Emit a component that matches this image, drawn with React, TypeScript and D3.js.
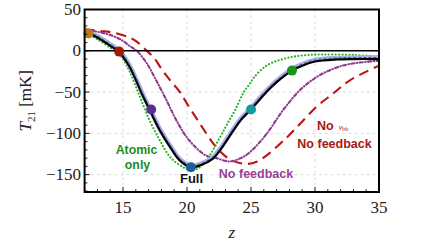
import React from 'react';
import * as d3 from 'd3';

// curve samples (z, T21 in mK)
const fullZ = [12, 12.3, 13, 14, 14.7, 15, 15.5, 16, 16.5, 17.1, 17.9, 18.7, 19.45, 20.3, 21, 22, 22.6, 23.6, 24.2, 25, 26.2, 27, 28.2, 29, 30, 31.7, 33, 35];
const fullT = [23, 21, 16, 6, -1, -7, -19, -35, -53, -72, -97, -117, -133, -141, -139, -131, -120, -97, -84, -71, -50, -38, -24, -18, -13, -10.5, -10, -10];

const atomicZ = [12, 13, 14, 14.5, 15, 15.55, 16.3, 17.1, 17.9, 18.7, 19.7, 20.4, 21, 21.6, 22.6, 23.2, 23.75, 24.4, 24.9, 25.2, 26.2, 27.5, 28.8, 30.5, 33, 35];
const atomicT = [22, 14, 4, -1, -10, -26, -55, -85, -109, -129, -141, -145, -141, -131, -104, -87, -72, -51, -40, -33, -18, -10, -6, -4.5, -5, -7];

const noFbZ = [12, 12.7, 14.2, 15, 15.5, 16.07, 16.85, 17.6, 18.4, 19.2, 20.2, 21.5, 22.3, 23.3, 24.2, 24.9, 26.2, 27.5, 28.8, 30.1, 31.4, 32.7, 35];
const noFbT = [25, 24, 18, 12, 6, 0, -15, -36, -60, -85, -109, -127, -130, -134, -130, -123, -101, -72, -48, -32, -22, -16, -12];

const noVbbZ = [12, 13.2, 14.24, 15.5, 16.07, 16.85, 17.4, 18.1, 18.7, 19.45, 20, 21, 22.3, 23.4, 24.7, 25.5, 26.2, 27.8, 28.8, 30.1, 31.4, 32.7, 35];
const noVbbT = [26, 24, 22, 16, 11, 0, -8, -24, -36, -50, -64, -88, -117, -132, -137, -134, -127, -105, -89, -68, -52, -36, -18];

const dotZ = [12.3, 14.7, 17.2, 20.3, 25, 28.2];
const dotT = [21, -1, -71, -141, -71, -24];
const dotColors = ['#b8791d', '#a3180e', '#5a2d92', '#1f5d9c', '#16999c', '#1b9421'];

const xTicks = [15, 20, 25, 30, 35];
const yTicks = [50, 0, -50, -100, -150];

const W = 432;
const H = 243;
const serif = '"Liberation Serif", "DejaVu Serif", serif';
const sans = '"Liberation Sans", Arial, sans-serif';

export default function App() {
  const x = d3.scaleLinear().domain([12, 35]).range([84.6, 379]);
  const y = d3.scaleLinear().domain([-171, 50]).range([192, 9.5]);
  const [x0, x1] = x.range();
  const [y0, y1] = y.range();

  const line = (zs: number[], ts: number[]) =>
    d3.line<number>()
      .x((_, i) => x(zs[i]))
      .y((_, i) => y(ts[i]))
      .curve(d3.curveCatmullRom.alpha(0.5))(zs) || '';

  const fullPath = line(fullZ, fullT);
  const minorX = d3.range(12, 35.01, 1);
  const minorY = d3.range(-170, 50.01, 10);

  return (
    <svg width={W} height={H} style={{ position: 'absolute', left: 0, top: 0, background: '#fff' }}>
      <defs>
        <clipPath id="plot">
          <rect x={x0} y={y1} width={x1 - x0} height={y0 - y1} />
        </clipPath>
      </defs>

      {/* grid */}
      {xTicks.slice(0, -1).map(t => (
        <line key={'gx' + t} x1={x(t)} x2={x(t)} y1={y0} y2={y1} stroke="#d9d9d9" strokeWidth={0.9} strokeDasharray="3,3" />
      ))}
      {yTicks.slice(1).map(t => (
        <line key={'gy' + t} x1={x0} x2={x1} y1={y(t)} y2={y(t)} stroke="#d9d9d9" strokeWidth={0.9} strokeDasharray="3,3" />
      ))}

      <g clipPath="url(#plot)" fill="none" strokeLinecap="round">
        {/* no v_bb */}
        <path d={line(noVbbZ, noVbbT)} stroke="#c01212" strokeWidth={2.1} strokeDasharray="10,6" strokeLinecap="butt" />
        {/* no feedback */}
        <path d={line(noFbZ, noFbT)} stroke="#8e3a8e" strokeWidth={2.1} strokeDasharray="3.2,2.4,0.4,2.4" />
        {/* atomic only */}
        <path d={line(atomicZ, atomicT)} stroke="#22b422" strokeWidth={2.1} strokeDasharray="0.1,3.3" />
        {/* full with band */}
        <path d={fullPath} stroke="#a9b0ea" strokeWidth={4.5} transform="translate(0,-1.5)" />
        <path d={fullPath} stroke="#000" strokeWidth={2.2} />
        <path d={fullPath} stroke="#333" strokeWidth={0.8} strokeDasharray="2,3" transform="translate(0,-1.5)" />
      </g>

      {/* zero line */}
      <line x1={x0} x2={x1} y1={y(0)} y2={y(0)} stroke="#000" strokeWidth={1.6} />

      {/* dots */}
      {dotZ.map((z, i) => (
        <circle key={'d' + i} cx={x(z)} cy={y(dotT[i])} r={5} fill={dotColors[i]} />
      ))}

      {/* ticks */}
      {minorX.map(t => (
        <line key={'tx' + t} x1={x(t)} x2={x(t)} y1={y0} y2={y0 - (t % 5 === 0 ? 5 : 2.8)} stroke="#000" strokeWidth={0.9} />
      ))}
      {minorY.map(t => (
        <line key={'ty' + t} x1={x0} x2={x0 + (t % 50 === 0 ? 5 : 2.8)} y1={y(t)} y2={y(t)} stroke="#000" strokeWidth={0.9} />
      ))}

      {/* frame */}
      <rect x={x0} y={y1} width={x1 - x0} height={y0 - y1} fill="none" stroke="#000" strokeWidth={2} />

      {/* tick labels */}
      {xTicks.map(t => (
        <text key={'lx' + t} x={x(t)} y={213} textAnchor="middle" fontFamily={serif} fontSize={17} fill="#222">{t}</text>
      ))}
      {yTicks.map(t => (
        <text key={'ly' + t} x={81} y={y(t) + 5.5} textAnchor="end" fontFamily={serif} fontSize={17} fill="#222">
          {t < 0 ? '\u2212' + Math.abs(t) : t}
        </text>
      ))}

      {/* axis titles */}
      <text x={(x0 + x1) / 2} y={238} textAnchor="middle" fontFamily={serif} fontStyle="italic" fontSize={17} fill="#222">z</text>
      <text transform={`translate(31,${(y0 + y1) / 2}) rotate(-90)`} textAnchor="middle" fontFamily={serif} fontSize={17} fill="#222">
        <tspan fontStyle="italic">T</tspan>
        <tspan fontSize={11} dy={4}>21</tspan>
        <tspan dy={-4}> [mK]</tspan>
      </text>

      {/* curve labels */}
      <g fontFamily={sans} fontWeight="bold" textAnchor="middle">
        <text x={136.5} y={153.5} fontSize={12.3} fill="#1a8c1a">Atomic</text>
        <text x={137.5} y={168.5} fontSize={12.3} fill="#1a8c1a">only</text>
        <text x={191.5} y={183} fontSize={13} fill="#111">Full</text>
        <text x={256} y={177.5} fontSize={12.5} fill="#9a3c9a">No feedback</text>
        <text x={334.5} y={147.5} fontSize={12.5} fill="#a8190f">No feedback</text>
        <text x={317} y={129.5} fontSize={12.5} fill="#a8190f" textAnchor="start">
          No
          <tspan fontFamily={serif} fontWeight="normal" fontStyle="italic" fontSize={8} dx={5}>v</tspan>
          <tspan fontFamily={serif} fontWeight="normal" fontSize={6} dy={1}>bb</tspan>
        </text>
      </g>
    </svg>
  );
}
